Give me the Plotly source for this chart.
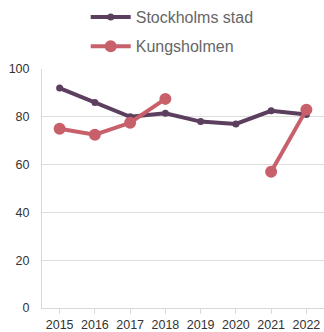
import plotly.graph_objects as go

years = ["2015", "2016", "2017", "2018", "2019", "2020", "2021", "2022"]
stockholm = [92, 86, 80, 81.5, 78, 77, 82.5, 81]
kungsholmen = [75, 72.5, 77.5, 87.5, None, None, 57, 83]

purple = "#5c3f5e"
rose = "#c8606b"

fig = go.Figure()
fig.add_trace(go.Scatter(
    x=years, y=stockholm, name="Stockholms stad", mode="lines+markers",
    line=dict(color=purple, width=4), marker=dict(size=7, color=purple),
    legend="legend", showlegend=True,
))
fig.add_trace(go.Scatter(
    x=years, y=kungsholmen, name="Kungsholmen", mode="lines+markers",
    line=dict(color=rose, width=4), marker=dict(size=12, color=rose),
    connectgaps=False, legend="legend2", showlegend=True,
))

legend_font = dict(family="Liberation Sans, Arial, sans-serif", size=16, color="#666666")
fig.update_layout(
    width=324, height=332,
    margin=dict(l=42, r=0, t=68, b=22),
    paper_bgcolor="white", plot_bgcolor="white",
    showlegend=True,
    font=dict(family="Liberation Sans, Arial, sans-serif", size=12.5, color="#333333"),
    legend=dict(x=0.155, xanchor="left", y=1.219, yanchor="middle",
                font=legend_font, bgcolor="rgba(0,0,0,0)", itemwidth=40),
    legend2=dict(x=0.155, xanchor="left", y=1.095, yanchor="middle",
                 font=legend_font, bgcolor="rgba(0,0,0,0)", itemwidth=40),
    xaxis=dict(type="category", showgrid=False, showline=True, linecolor="#d9d9d9",
               ticks="outside", ticklen=5, tickcolor="#d9d9d9",
               range=[-0.5, 7.5], fixedrange=True),
    yaxis=dict(range=[0, 100], tickvals=[0, 20, 40, 60, 80, 100],
               showgrid=True, gridcolor="#dddddd", gridwidth=1,
               showline=True, linecolor="#d9d9d9", zeroline=False,
               ticks="", ticklabelstandoff=9),
)
fig.write_html("out.html")
